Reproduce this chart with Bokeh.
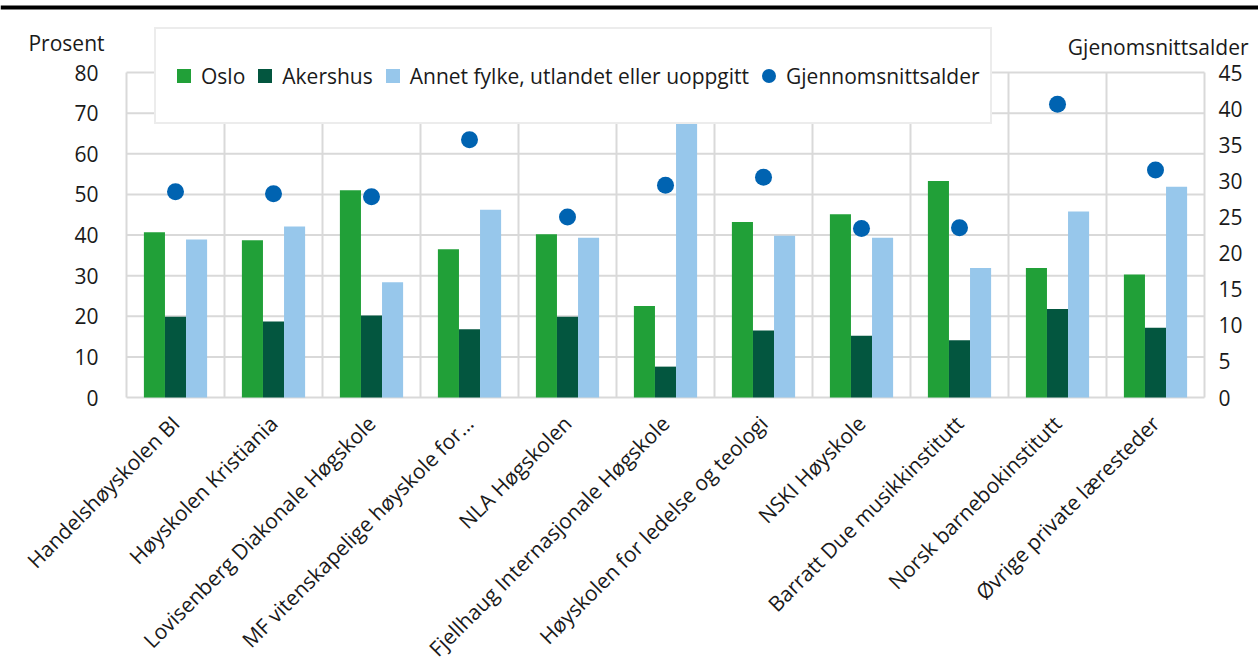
from bokeh.plotting import figure
from bokeh.models import (Range1d, LinearAxis, FixedTicker, Legend, LegendItem,
                          Label, Span, ColumnDataSource)
from bokeh.transform import dodge
from bokeh.embed import file_html
from bokeh.resources import INLINE
import math

categories = ["Handelshøyskolen BI", "Høyskolen Kristiania", "Lovisenberg Diakonale Høgskole",
              "MF vitenskapelige høyskole for…", "NLA Høgskolen", "Fjellhaug Internasjonale Høgskole",
              "Høyskolen for ledelse og teologi", "NSKI Høyskole", "Barratt Due musikkinstitutt",
              "Norsk barnebokinstitutt", "Øvrige private læresteder"]
oslo = [40.7, 38.7, 51.0, 36.5, 40.2, 22.5, 43.2, 45.1, 53.3, 31.9, 30.3]
akershus = [19.9, 18.7, 20.2, 16.8, 19.9, 7.6, 16.5, 15.2, 14.1, 21.8, 17.2]
annet = [38.9, 42.1, 28.4, 46.2, 39.3, 69.4, 39.8, 39.3, 31.9, 45.8, 51.9]
alder = [28.5, 28.2, 27.8, 35.7, 25.0, 29.4, 30.5, 23.4, 23.5, 40.6, 31.5]
left_ticks = [0, 10, 20, 30, 40, 50, 60, 70, 80]
right_ticks = [0, 5, 10, 15, 20, 25, 30, 35, 40, 45]
series_names = ["Oslo", "Akershus", "Annet fylke, utlandet eller uoppgitt", "Gjennomsnittsalder"]
left_title = "Prosent"
right_title = "Gjenomsnittsalder"

C_OSLO = "#21A038"
C_AK = "#03563F"
C_ANNET = "#97C7EB"
C_DOT = "#0063B1"
GRID = "#D9D9D9"
TXT = "#1a1a1a"
FONT = "Open Sans"
FS = "21px"

# ---- geometry (figure pixels, from top-left) ----
W, H = 1258, 664
PX_L, PX_R = 126, 1204      # x of category boundary 0 / n
PX_TOP, PX_BOT = 72, 397    # y of 80 / 0
n = len(categories)
ymax_left = left_ticks[-1]
ymax_right = right_ticks[-1]

ppx = (PX_R - PX_L) / n
ppy = (PX_BOT - PX_TOP) / ymax_left
x0 = -PX_L / ppx
x1 = n + (W - PX_R) / ppx
y0 = -(H - PX_BOT) / ppy
y1 = ymax_left + PX_TOP / ppy
k = ymax_right / ymax_left

xs = [i + 0.5 for i in range(n)]
src = ColumnDataSource(dict(x=xs, oslo=oslo, akershus=akershus, annet=annet, alder=alder))

p = figure(width=W, height=H, output_backend="svg", toolbar_location=None,
           x_range=Range1d(x0, x1), y_range=Range1d(y0, y1),
           x_axis_type=None, y_axis_type=None,
           min_border_left=0, min_border_right=0, min_border_top=0, min_border_bottom=0)
p.outline_line_color = None
p.background_fill_color = "white"
p.border_fill_color = "white"
p.extra_y_ranges = {"age": Range1d(y0 * k, y1 * k)}

# grid lines (limited to the data area)
vb = list(range(n + 1))
p.segment(x0=vb, y0=[0] * len(vb), x1=vb, y1=[ymax_left] * len(vb),
          line_color=GRID, line_width=2, level="underlay")
p.segment(x0=[0] * len(left_ticks), y0=left_ticks, x1=[n] * len(left_ticks), y1=left_ticks,
          line_color=GRID, line_width=2, level="underlay")

bw = 0.215
r1 = p.vbar(x=dodge("x", -bw, range=p.x_range), top="oslo", width=bw, source=src,
            fill_color=C_OSLO, line_color=None)
r2 = p.vbar(x=dodge("x", 0, range=p.x_range), top="akershus", width=bw, source=src,
            fill_color=C_AK, line_color=None)
r3 = p.vbar(x=dodge("x", bw, range=p.x_range), top="annet", width=bw, source=src,
            fill_color=C_ANNET, line_color=None)
r4 = p.scatter(x="x", y="alder", y_range_name="age", size=17, marker="circle", source=src,
               fill_color=C_DOT, line_color=None)

# legend proxies (square markers, not drawn in the plot)
nan = float("nan")
l1 = p.scatter(x=[nan], y=[nan], marker="square", fill_color=C_OSLO, line_color=None)
l2 = p.scatter(x=[nan], y=[nan], marker="square", fill_color=C_AK, line_color=None)
l3 = p.scatter(x=[nan], y=[nan], marker="square", fill_color=C_ANNET, line_color=None)


def style_axis(ax, standoff):
    ax.axis_line_color = None
    ax.major_tick_line_color = None
    ax.minor_tick_line_color = None
    ax.major_label_standoff = standoff
    ax.major_label_text_font = FONT
    ax.major_label_text_font_size = FS
    ax.major_label_text_color = TXT


la = LinearAxis(ticker=FixedTicker(ticks=left_ticks), fixed_location=0)
style_axis(la, 22)
p.add_layout(la, "left")

ra = LinearAxis(y_range_name="age", ticker=FixedTicker(ticks=right_ticks), fixed_location=n)
style_axis(ra, 8)
p.add_layout(ra, "right")

ba = LinearAxis(ticker=FixedTicker(ticks=xs), fixed_location=0)
ba.major_label_overrides = {x: c for x, c in zip(xs, categories)}
ba.major_label_orientation = math.pi / 4
style_axis(ba, 16)
p.add_layout(ba, "below")

# axis titles
p.add_layout(Label(x=104, y=H - 42, x_units="screen", y_units="screen", text=left_title,
                   text_align="right", text_baseline="middle", text_font=FONT,
                   text_font_size=FS, text_color=TXT))
p.add_layout(Label(x=1248, y=H - 46, x_units="screen", y_units="screen", text=right_title,
                   text_align="right", text_baseline="middle", text_font=FONT,
                   text_font_size=FS, text_color=TXT))

# top rule
p.add_layout(Span(location=y1 - 7 / ppy, dimension="width", line_color="black", line_width=4))

legend = Legend(items=[LegendItem(label=series_names[0], renderers=[l1]),
                       LegendItem(label=series_names[1], renderers=[l2]),
                       LegendItem(label=series_names[2], renderers=[l3]),
                       LegendItem(label=series_names[3], renderers=[r4])],
                orientation="horizontal", location=(154, H - 124))
legend.glyph_width = 35
legend.glyph_height = 35
legend.label_standoff = 0
legend.spacing = 2
legend.padding = 10
legend.margin = 0
legend.label_height = 73
legend.label_text_font = FONT
legend.label_text_font_size = FS
legend.label_text_color = TXT
legend.border_line_color = GRID
legend.border_line_width = 2
legend.background_fill_color = "white"
legend.background_fill_alpha = 1
p.add_layout(legend)

open("out.html", "w").write(file_html(p, INLINE))
